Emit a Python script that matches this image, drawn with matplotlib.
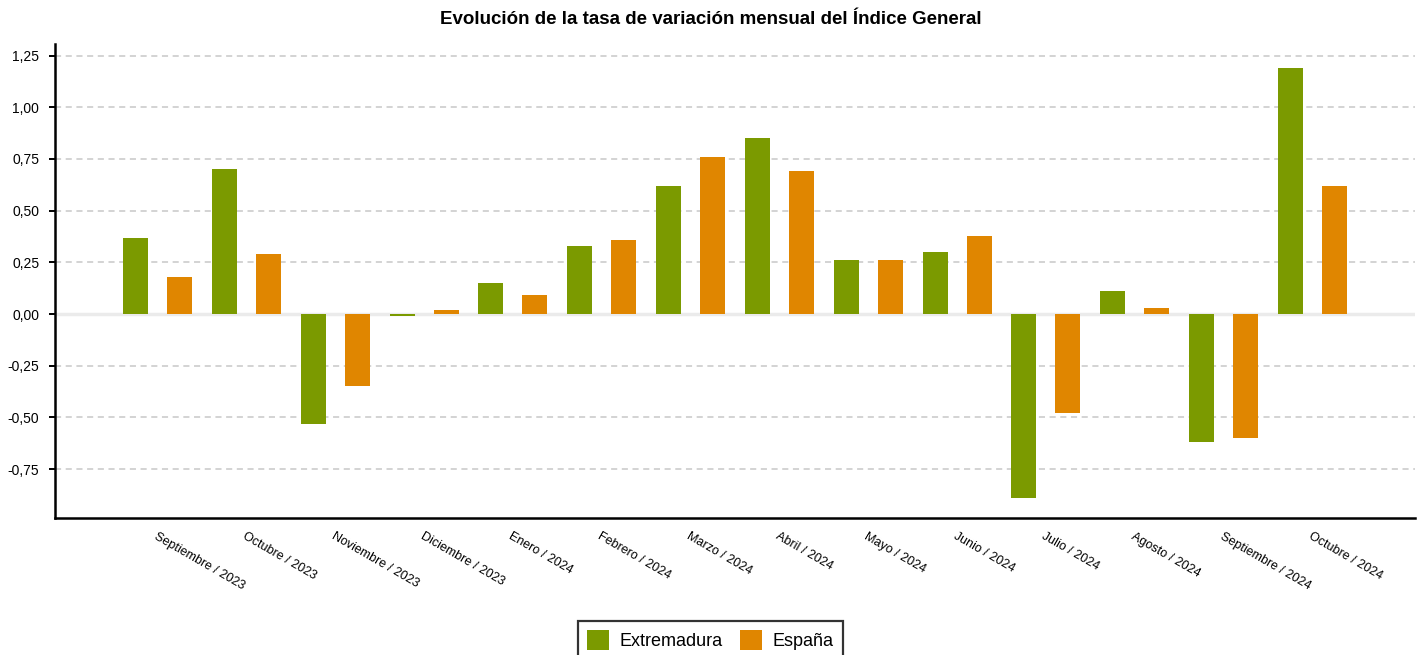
import matplotlib
matplotlib.use("Agg")
import matplotlib.pyplot as plt
import numpy as np

# data
meses = ["Septiembre / 2023", "Octubre / 2023", "Noviembre / 2023", "Diciembre / 2023",
         "Enero / 2024", "Febrero / 2024", "Marzo / 2024", "Abril / 2024",
         "Mayo / 2024", "Junio / 2024", "Julio / 2024", "Agosto / 2024",
         "Septiembre / 2024", "Octubre / 2024"]
extremadura = [0.37, 0.70, -0.53, -0.01, 0.15, 0.33, 0.62, 0.85, 0.26, 0.30, -0.89, 0.11, -0.62, 1.19]
espana = [0.18, 0.29, -0.35, 0.02, 0.09, 0.36, 0.76, 0.69, 0.26, 0.38, -0.48, 0.03, -0.60, 0.62]
y_ticks = [-0.75, -0.5, -0.25, 0, 0.25, 0.5, 0.75, 1.0, 1.25]

plt.rcParams['font.family'] = ['Liberation Sans', 'DejaVu Sans']

verde = '#7b9a00'
naranja = '#e08600'

fig = plt.figure(figsize=(14.21, 6.55), dpi=100)
ax = fig.add_axes([55 / 1421, 1 - 518 / 655, 1360 / 1421, 474 / 655])

x = np.arange(len(meses))
ancho = 0.281
desp = 0.248
ax.bar(x - desp, extremadura, ancho, color=verde, label='Extremadura', zorder=3)
ax.bar(x + desp, espana, ancho, color=naranja, label='España', zorder=3)

ax.set_xlim(-1.154, len(meses) - 1 + 1.154)
ax.set_ylim(-0.986, 1.306)

ax.axhline(0, color='#ebebeb', lw=2.5, zorder=1)
ax.set_yticks(y_ticks)
ax.set_yticklabels([("%.2f" % v).replace('.', ',') for v in y_ticks], fontsize=10)
ax.yaxis.grid(True, color='#c8c8c8', lw=1.1, linestyle=(0, (4, 3)), zorder=2)
ax.set_axisbelow(True)

ax.set_xticks(x)
ax.set_xticklabels(meses, fontsize=9, rotation=-30, ha='left', va='top', rotation_mode='anchor')
ax.tick_params(axis='x', length=0, pad=9)
ax.tick_params(axis='y', length=4.3, width=1.4, pad=7, color='black')

for s in ['top', 'right']:
    ax.spines[s].set_visible(False)
for s in ['left', 'bottom']:
    ax.spines[s].set_linewidth(1.8)
    ax.spines[s].set_color('black')

fig.text(0.5, 1 - 20 / 655, 'Evolución de la tasa de variación mensual del Índice General',
         ha='center', va='center', fontsize=13.5, fontweight='bold')

leg = fig.legend(loc='upper center', bbox_to_anchor=(0.5, 1 - 621 / 655), ncol=2,
                 fontsize=13, frameon=True, fancybox=False, shadow=False,
                 handlelength=1.2, handleheight=1.35, handletextpad=0.6,
                 columnspacing=0.95, borderpad=0.5, borderaxespad=0)
leg.get_frame().set_edgecolor('black')
leg.get_frame().set_linewidth(1.6)

fig.savefig('out.png', dpi=100)
